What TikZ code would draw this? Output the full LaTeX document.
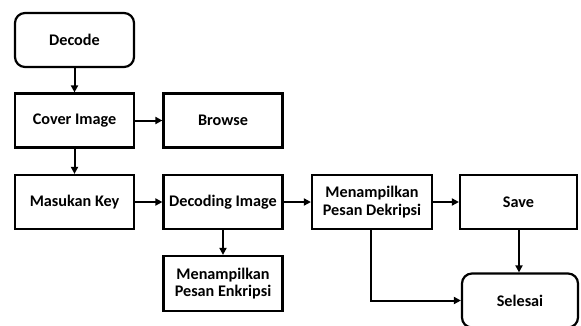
\documentclass[tikz,border=0pt]{standalone}
\usepackage{fontspec}
\setmainfont{Carlito}
\usetikzlibrary{arrows.meta}
\begin{document}
\begin{tikzpicture}[x=1pt,y=-1pt,
  box/.style={draw=black,line width=2.2pt,fill=white,minimum width=119pt,minimum height=54pt,
    inner sep=2pt,align=center,font=\fontsize{16.2}{17.8}\selectfont\bfseries},
  term/.style={box,rounded corners=10pt},
  flow/.style={line width=2pt,-{Triangle[length=7pt,width=7pt]}}]
\useasboundingbox (0,0) rectangle (581,325);
\begin{scope}
\clip (0,0) rectangle (581,325);
\node[term] (decode) at (74.5,40) {Decode};
\node[box] (cover) at (74.5,120.5) {Cover Image};
\node[box] (browse) at (223,120.5) {Browse};
\node[box] (key) at (74.5,202) {Masukan Key};
\node[box] (decimg) at (223,202) {Decoding Image};
\node[box,minimum height=55pt] (enk) at (223,283.5) {Menampilkan\\Pesan Enkripsi};
\node[box,minimum width=120pt] (dek) at (372,202) {Menampilkan\\Pesan Dekripsi};
\node[box,minimum width=117pt] (save) at (518.5,202) {Save};
\node[term,minimum width=116pt] (end) at (520,300.5) {Selesai};

\draw[flow] (decode) -- (cover);
\draw[flow] (cover) -- (browse);
\draw[flow] (cover) -- (key);
\draw[flow] (key) -- (decimg);
\draw[flow] (decimg) -- (enk);
\draw[flow] (decimg.east) -- (dek.west);
\draw[flow] (dek.east) -- (save.west |- dek.east);
\draw[flow] (save.south -| 519,0) -- (end.north -| 519,0);
\draw[flow] (dek.south -| 371,0) |- (end.west);
\end{scope}
\end{tikzpicture}
\end{document}
